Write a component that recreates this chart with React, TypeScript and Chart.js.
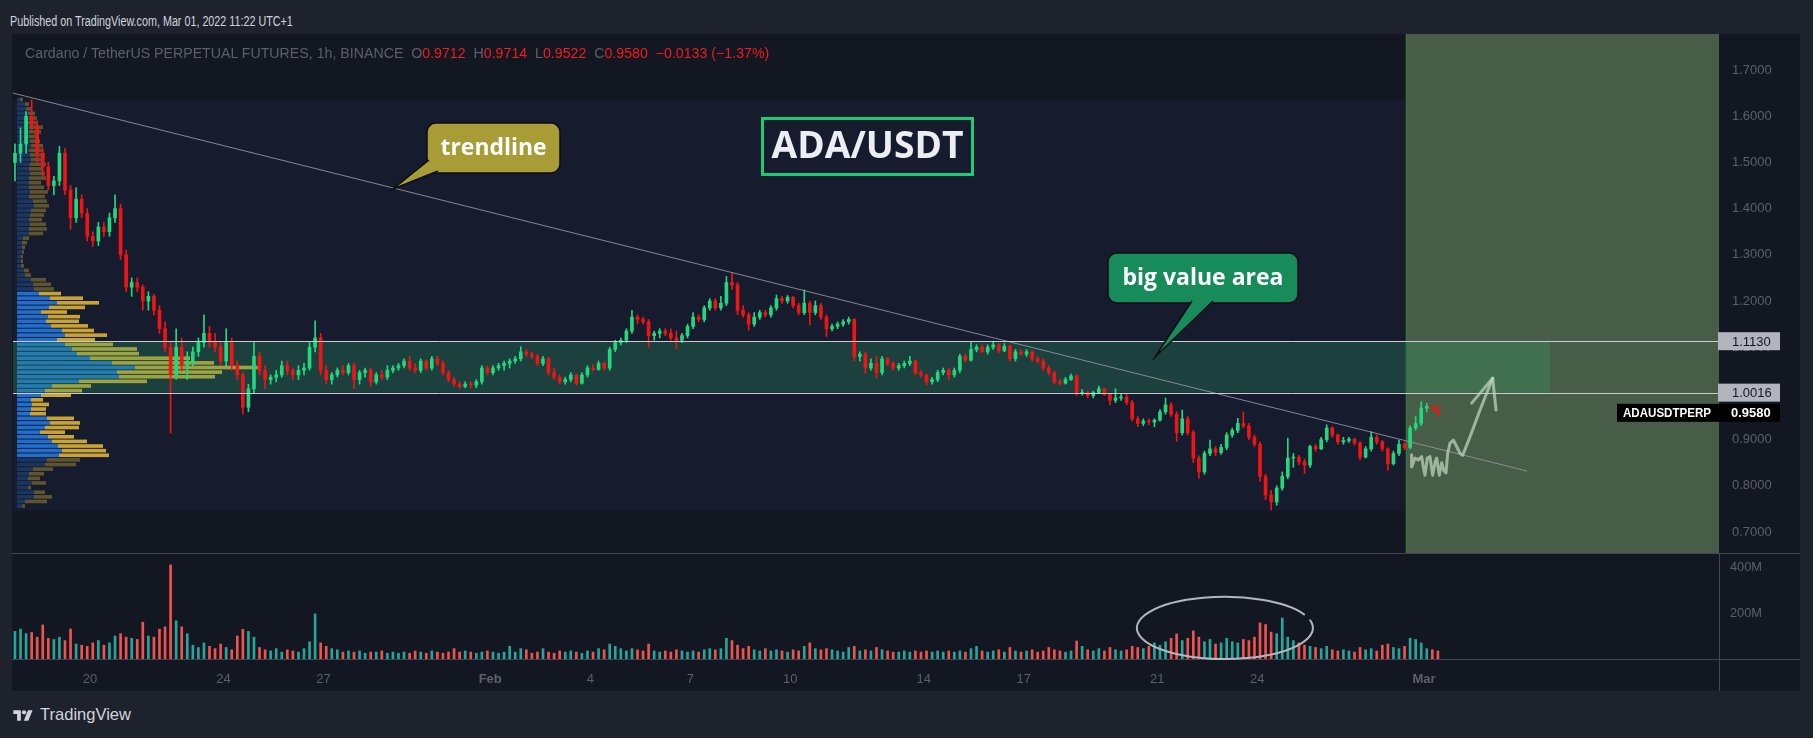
import React, { useEffect, useRef } from 'react';
import { Chart, registerables } from 'chart.js';

Chart.register(...registerables);

// ---------------- time axis (days after 2022-01-20 00:00, UTC+1) ----------------
const xMinDay = -2.309;
const xMaxDay = 48.846;
const tickDays = [0, 4, 7, 12, 15, 18, 21, 25, 28, 32, 35, 40];
const tickLabels = ['20', '24', '27', 'Feb', '4', '7', '10', '14', '17', '21', '24', 'Mar'];
const monthLabels = ['Feb', 'Mar'];

// ---------------- price / volume axes ----------------
const priceMin = 0.4251;
const priceMax = 1.7779;
const pricePaneLow = 0.6545;
const priceTicks = [0.7, 0.8, 0.9, 1.0, 1.1, 1.2, 1.3, 1.4, 1.5, 1.6, 1.7];
const volumeMax = 2717; // millions
const volumeTicks = [200, 400];
const levels = [1.113, 1.0016];
const lastPrice = 0.958;
const symbol = 'ADAUSDTPERP';

// ---------------- 4h candles, first one opens Jan 17 16:00 ----------------
const firstCandleDay = -2.3333;
const candleHours = 4;
// [open, high, low, close]
const candles = [
  [1.50,1.54,1.46,1.52],[1.52,1.575,1.50,1.54],[1.54,1.61,1.52,1.60],[1.60,1.635,1.57,1.58],[1.58,1.59,1.50,1.52],
  [1.52,1.53,1.47,1.49],[1.49,1.50,1.44,1.45],[1.45,1.47,1.43,1.46],[1.46,1.535,1.45,1.52],[1.52,1.53,1.43,1.44],
  [1.44,1.45,1.355,1.38],[1.38,1.445,1.37,1.42],[1.42,1.43,1.38,1.39],[1.39,1.40,1.33,1.34],[1.34,1.35,1.318,1.33],
  [1.33,1.37,1.32,1.36],[1.36,1.37,1.34,1.35],[1.35,1.39,1.34,1.38],[1.38,1.43,1.37,1.40],[1.40,1.41,1.29,1.30],
  [1.30,1.31,1.22,1.23],[1.23,1.25,1.21,1.24],[1.24,1.25,1.22,1.23],[1.23,1.235,1.18,1.20],[1.20,1.22,1.18,1.21],
  [1.21,1.215,1.17,1.18],[1.18,1.19,1.13,1.14],[1.14,1.155,1.09,1.10],[1.10,1.11,0.914,1.04],[1.04,1.14,1.03,1.10],
  [1.10,1.12,1.05,1.06],[1.06,1.09,1.03,1.07],[1.07,1.10,1.06,1.09],[1.09,1.12,1.08,1.11],[1.11,1.17,1.10,1.13],
  [1.13,1.145,1.10,1.11],[1.11,1.13,1.09,1.10],[1.10,1.11,1.06,1.07],[1.07,1.14,1.06,1.11],[1.11,1.12,1.05,1.06],
  [1.06,1.07,1.03,1.04],[1.04,1.045,0.955,0.97],[0.97,1.02,0.96,1.01],[1.01,1.11,1.00,1.08],[1.08,1.09,1.04,1.05],
  [1.05,1.06,1.01,1.03],[1.03,1.04,1.02,1.035],[1.035,1.05,1.025,1.04],[1.04,1.07,1.035,1.06],[1.06,1.07,1.04,1.05],
  [1.05,1.055,1.03,1.04],[1.04,1.06,1.03,1.05],[1.05,1.065,1.04,1.055],[1.055,1.11,1.05,1.10],[1.10,1.157,1.09,1.12],
  [1.12,1.13,1.04,1.05],[1.05,1.06,1.02,1.03],[1.03,1.045,1.02,1.04],[1.04,1.055,1.035,1.05],[1.05,1.06,1.04,1.045],
  [1.045,1.065,1.04,1.06],[1.06,1.065,1.01,1.03],[1.03,1.05,1.02,1.045],[1.045,1.055,1.035,1.05],[1.05,1.055,1.015,1.025],
  [1.025,1.045,1.02,1.04],[1.04,1.05,1.03,1.035],[1.035,1.06,1.03,1.05],[1.05,1.06,1.045,1.055],[1.055,1.065,1.05,1.06],
  [1.06,1.075,1.055,1.07],[1.07,1.08,1.05,1.055],[1.055,1.065,1.045,1.05],[1.05,1.075,1.045,1.07],[1.07,1.072,1.05,1.055],
  [1.055,1.08,1.05,1.075],[1.075,1.08,1.06,1.065],[1.065,1.07,1.04,1.045],[1.045,1.05,1.025,1.03],[1.03,1.035,1.015,1.02],
  [1.02,1.025,1.011,1.015],[1.015,1.025,1.012,1.02],[1.02,1.025,1.012,1.018],[1.018,1.03,1.012,1.025],[1.025,1.06,1.02,1.055],
  [1.055,1.06,1.04,1.045],[1.045,1.06,1.04,1.055],[1.055,1.065,1.05,1.06],[1.06,1.07,1.05,1.065],[1.065,1.075,1.055,1.07],
  [1.07,1.08,1.065,1.075],[1.075,1.101,1.07,1.09],[1.09,1.095,1.08,1.085],[1.085,1.09,1.075,1.08],[1.08,1.085,1.06,1.065],
  [1.065,1.08,1.06,1.075],[1.075,1.078,1.04,1.045],[1.045,1.055,1.03,1.035],[1.035,1.04,1.02,1.025],[1.025,1.035,1.02,1.03],
  [1.03,1.045,1.025,1.04],[1.04,1.042,1.018,1.022],[1.022,1.045,1.02,1.04],[1.04,1.06,1.035,1.055],[1.055,1.062,1.048,1.052],
  [1.052,1.07,1.05,1.065],[1.065,1.068,1.05,1.055],[1.055,1.10,1.05,1.095],[1.095,1.115,1.09,1.11],[1.11,1.12,1.105,1.115],
  [1.115,1.14,1.11,1.135],[1.135,1.18,1.13,1.165],[1.165,1.17,1.15,1.16],[1.16,1.165,1.15,1.155],[1.155,1.16,1.10,1.125],
  [1.125,1.135,1.115,1.13],[1.13,1.14,1.12,1.135],[1.135,1.14,1.125,1.13],[1.13,1.14,1.115,1.12],[1.12,1.135,1.097,1.115],
  [1.115,1.13,1.11,1.125],[1.125,1.15,1.12,1.145],[1.145,1.175,1.14,1.165],[1.165,1.17,1.155,1.16],[1.16,1.19,1.155,1.185],
  [1.185,1.205,1.18,1.20],[1.20,1.205,1.18,1.185],[1.185,1.21,1.18,1.195],[1.195,1.253,1.19,1.24],[1.24,1.261,1.225,1.235],
  [1.235,1.24,1.17,1.18],[1.18,1.19,1.165,1.17],[1.17,1.175,1.137,1.15],[1.15,1.175,1.145,1.165],[1.165,1.18,1.16,1.175],
  [1.175,1.18,1.165,1.17],[1.17,1.19,1.165,1.185],[1.185,1.213,1.18,1.205],[1.205,1.21,1.195,1.20],[1.20,1.212,1.195,1.208],
  [1.208,1.21,1.185,1.19],[1.19,1.195,1.17,1.175],[1.175,1.224,1.17,1.195],[1.195,1.20,1.148,1.175],[1.175,1.20,1.17,1.19],
  [1.19,1.195,1.16,1.165],[1.165,1.17,1.123,1.14],[1.14,1.15,1.135,1.145],[1.145,1.155,1.14,1.15],[1.15,1.16,1.145,1.155],
  [1.155,1.165,1.15,1.16],[1.16,1.162,1.07,1.08],[1.08,1.09,1.07,1.085],[1.085,1.09,1.043,1.055],[1.055,1.075,1.05,1.065],
  [1.065,1.08,1.033,1.045],[1.045,1.08,1.04,1.075],[1.075,1.078,1.06,1.065],[1.065,1.068,1.05,1.055],[1.055,1.065,1.05,1.06],
  [1.06,1.07,1.055,1.065],[1.065,1.08,1.06,1.07],[1.07,1.072,1.04,1.045],[1.045,1.05,1.035,1.04],[1.04,1.042,1.018,1.025],
  [1.025,1.035,1.02,1.03],[1.03,1.05,1.025,1.045],[1.045,1.055,1.04,1.05],[1.05,1.055,1.03,1.04],[1.04,1.055,1.035,1.05],
  [1.05,1.085,1.045,1.08],[1.08,1.085,1.068,1.072],[1.072,1.112,1.07,1.095],[1.095,1.105,1.09,1.10],[1.10,1.105,1.088,1.09],
  [1.09,1.105,1.085,1.10],[1.10,1.113,1.095,1.105],[1.105,1.108,1.088,1.092],[1.092,1.108,1.09,1.102],[1.102,1.105,1.07,1.075],
  [1.075,1.095,1.07,1.09],[1.09,1.095,1.082,1.085],[1.085,1.095,1.08,1.09],[1.09,1.092,1.07,1.075],[1.075,1.08,1.065,1.07],
  [1.07,1.075,1.05,1.055],[1.055,1.06,1.04,1.045],[1.045,1.048,1.02,1.025],[1.025,1.03,1.018,1.022],[1.022,1.035,1.02,1.03],
  [1.03,1.042,1.028,1.038],[1.038,1.04,0.995,1.00],[1.00,1.008,0.996,1.002],[1.002,1.005,0.99,0.995],[0.995,1.005,0.99,1.002],
  [1.002,1.016,1.00,1.01],[1.01,1.012,0.995,0.998],[0.998,1.00,0.975,0.985],[0.985,1.01,0.98,0.99],[0.99,0.998,0.985,0.992],
  [0.992,1.00,0.975,0.98],[0.98,0.985,0.94,0.945],[0.945,0.95,0.928,0.935],[0.935,0.945,0.93,0.94],[0.94,0.945,0.932,0.938],
  [0.938,0.945,0.928,0.942],[0.942,0.965,0.94,0.96],[0.96,0.99,0.955,0.975],[0.975,0.98,0.95,0.955],[0.955,0.96,0.896,0.915],
  [0.915,0.964,0.91,0.945],[0.945,0.95,0.91,0.915],[0.915,0.92,0.85,0.86],[0.86,0.865,0.816,0.83],[0.83,0.875,0.825,0.87],
  [0.87,0.899,0.865,0.88],[0.88,0.885,0.865,0.872],[0.872,0.89,0.868,0.883],[0.883,0.915,0.878,0.91],[0.91,0.925,0.905,0.92],
  [0.92,0.946,0.915,0.935],[0.935,0.96,0.925,0.93],[0.93,0.935,0.90,0.905],[0.905,0.91,0.885,0.89],[0.89,0.895,0.81,0.82],
  [0.82,0.825,0.77,0.78],[0.78,0.79,0.748,0.765],[0.765,0.80,0.758,0.795],[0.795,0.83,0.79,0.82],[0.82,0.903,0.815,0.86],
  [0.86,0.87,0.84,0.862],[0.862,0.866,0.845,0.852],[0.852,0.858,0.827,0.845],[0.845,0.888,0.84,0.885],[0.885,0.89,0.875,0.88],
  [0.88,0.905,0.878,0.90],[0.90,0.932,0.895,0.925],[0.925,0.928,0.905,0.91],[0.91,0.912,0.89,0.895],[0.895,0.905,0.89,0.898],
  [0.898,0.905,0.894,0.901],[0.901,0.903,0.888,0.893],[0.893,0.895,0.856,0.862],[0.862,0.885,0.86,0.88],[0.88,0.917,0.875,0.905],
  [0.905,0.91,0.89,0.895],[0.895,0.898,0.875,0.88],[0.88,0.882,0.834,0.848],[0.848,0.875,0.845,0.87],[0.87,0.899,0.865,0.89],
  [0.89,0.895,0.878,0.883],[0.883,0.93,0.88,0.925],[0.925,0.95,0.92,0.935],[0.935,0.982,0.93,0.968],[0.968,0.978,0.96,0.972],
  [0.972,0.975,0.962,0.966],[0.966,0.975,0.952,0.958],
];

// peak hourly volume inside each 4h candle, millions
const volumes = [
  120,130,110,115,95,148,90,85,95,80,
  130,65,60,55,70,80,60,70,100,110,
  95,90,85,160,100,95,130,140,409,166,
  140,110,60,50,70,55,45,65,50,40,
  100,129,120,95,50,40,35,45,30,40,
  35,30,45,75,196,70,55,45,40,30,
  35,30,35,25,30,30,35,25,30,25,
  30,25,35,30,25,35,30,25,30,45,
  30,35,30,25,30,35,30,25,30,55,
  30,45,40,25,30,45,30,25,35,30,
  35,30,25,35,30,45,40,65,55,45,
  35,45,40,35,65,35,30,35,30,40,
  35,30,35,30,40,45,40,45,90,80,
  60,45,55,40,35,45,35,40,35,30,
  40,35,55,70,45,40,45,40,35,30,
  50,55,35,40,35,50,40,35,30,30,
  35,30,35,30,35,30,35,30,35,30,
  35,30,45,55,35,30,35,40,30,50,
  35,30,35,40,30,35,50,40,35,30,
  35,78,55,40,35,45,35,50,40,35,
  40,55,50,45,55,70,60,75,90,109,
  80,90,122,95,75,85,65,70,90,75,
  70,85,80,95,157,150,117,110,178,95,
  80,70,60,55,50,45,55,40,35,40,
  35,30,50,40,45,35,60,65,50,45,
  55,90,85,70,45,40,35,
];

// ---------------- visible-range volume profile (rows of 0.01 from 0.75) ----------------
const vpLowPrice = 0.75;
const vpRowSize = 0.01;
const vpValueArea = [0.86, 1.215];
const vpAxisRange = [-4, 1702]; // profile volume units across the pane width
const vpUp = [
  5,8,17,17,11,15,11,12,16,28,
  30,42,45,41,35,31,23,28,33,30,
  13,14,15,14,24,28,35,62,102,100,
  118,95,73,60,55,48,40,48,45,34,
  29,31,24,32,40,33,22,17,16,14,
  8,7,4,4,4,5,5,5,6,12,
  12,13,12,13,14,17,16,12,13,12,
  12,12,13,12,13,14,13,12,14,13,
  12,12,12,11,12,11,9,8,3,
];
const vpDown = [
  3,22,18,11,3,14,12,15,20,31,
  33,50,44,45,35,26,25,34,30,27,
  16,15,17,12,30,37,39,68,96,105,
  126,102,100,62,65,48,38,42,32,37,
  33,32,26,36,42,33,22,20,18,15,
  6,5,3,2,2,2,3,5,6,14,
  18,16,13,14,15,15,14,16,18,15,
  12,17,15,14,16,12,15,13,12,10,
  9,12,14,9,8,7,6,4,3,
];

// ---------------- drawings (day, price) ----------------
const trendline = [[xMinDay, 1.650], [43.088, 0.832]];
const rangeRect = [0.7455, 1.635];
const boxStartDay = 39.451;
const bandEndDay = 43.78;
const callouts = [
  { text: 'trendline', fill: '#a89c37', box: [10.105, 1.5853, 14.093, 1.4771], tail: [[10.165, 1.5052], [9.085, 1.4424], [10.435, 1.4814]], textAt: [12.099, 1.5312], textWidth: 106 },
  { text: 'big value area', fill: '#178c5a', box: [30.525, 1.3039, 36.222, 1.1957], tail: [[33.043, 1.2], [31.934, 1.0788], [33.673, 1.2]], textAt: [33.373, 1.2498], textWidth: 163 },
];
const titleBox = { text: 'ADA/USDT', box: [20.12, 1.5983, 26.507, 1.4706], textAt: [23.313, 1.5344], textWidth: 192 };
const sketchPath = [
  [39.63,0.867],[39.63,0.841],[39.73,0.860],[39.83,0.856],[39.93,0.863],[39.98,0.841],[40.03,0.823],[40.10,0.860],
  [40.18,0.863],[40.26,0.823],[40.33,0.850],[40.38,0.860],[40.46,0.823],[40.53,0.850],[40.60,0.832],[40.66,0.828],
  [40.71,0.870],[40.78,0.892],[40.88,0.899],[40.98,0.885],[41.08,0.870],[41.16,0.866],[41.38,0.906],[41.68,0.964],[42.06,1.033],
];
const sketchArrowHead = [[41.43, 0.979], [42.06, 1.033], [42.16, 0.964]];
const volumeCircle = { center: [34.03, 135], radius: [2.64, 135] };

// ---------------- texts ----------------
const publishedText = 'Published on TradingView.com, Mar 01, 2022 11:22 UTC+1';
const headerParts = [
  { t: 'Cardano / TetherUS PERPETUAL FUTURES, 1h, BINANCE  O', c: '#5d606b' },
  { t: '0.9712', c: '#f41c1c' },
  { t: '  H', c: '#5d606b' },
  { t: '0.9714', c: '#f41c1c' },
  { t: '  L', c: '#5d606b' },
  { t: '0.9522', c: '#f41c1c' },
  { t: '  C', c: '#5d606b' },
  { t: '0.9580', c: '#f41c1c' },
  { t: '  \u22120.0133 (\u22121.37%)', c: '#f41c1c' },
];

const FONT_AXIS = "'Liberation Sans', Arial, sans-serif";
const FONT_NOTE = "'Open Sans', 'DejaVu Sans', sans-serif";
const GREEN = '#22d87e';
const RED = '#f01414';
const VGREEN = '#26a69a';
const VRED = '#ef5350';
const SEP = '#434651';

const candleDay = (i: number) => firstCandleDay + (i * candleHours + candleHours / 2) / 24;
const isUp = (c: number[]) => c[3] >= c[0];

function roundRect(ctx: CanvasRenderingContext2D, x: number, y: number, w: number, h: number, r: number) {
  ctx.beginPath();
  ctx.moveTo(x + r, y);
  ctx.arcTo(x + w, y, x + w, y + h, r);
  ctx.arcTo(x + w, y + h, x, y + h, r);
  ctx.arcTo(x, y + h, x, y, r);
  ctx.arcTo(x, y, x + w, y, r);
  ctx.closePath();
}

const overlayPlugin = {
  id: 'tvOverlay',
  beforeDatasetsDraw(chart: any) {
    const { ctx, chartArea: a } = chart;
    const X = chart.scales.x, Y = chart.scales.y;
    ctx.save();
    const boxX = X.getPixelForValue(boxStartDay);
    const paneBottom = Y.getPixelForValue(pricePaneLow);
    // range rectangle
    const r1 = Y.getPixelForValue(rangeRect[1]);
    const r0 = Y.getPixelForValue(rangeRect[0]);
    ctx.fillStyle = '#161b2e';
    ctx.fillRect(a.left, r1, a.right - a.left, r0 - r1);
    // volume profile (horizontal volume axis laid across the pane width)
    const vpPx = (v: number) => a.left + ((v - vpAxisRange[0]) / (vpAxisRange[1] - vpAxisRange[0])) * (a.right - a.left);
    const x0 = vpPx(0);
    for (let k = 0; k < vpUp.length; k++) {
      const lo = vpLowPrice + k * vpRowSize;
      const hi = lo + vpRowSize;
      const yt = Y.getPixelForValue(hi);
      const yb = Y.getPixelForValue(lo);
      const mid = (lo + hi) / 2;
      const inVA = mid >= vpValueArea[0] && mid <= vpValueArea[1];
      const xb = vpPx(vpUp[k]);
      const xt = vpPx(vpUp[k] + vpDown[k]);
      const h = Math.max(1, yb - yt - 1);
      ctx.fillStyle = inVA ? '#1f6fd0' : '#1c3662';
      ctx.fillRect(x0, yt, xb - x0, h);
      ctx.fillStyle = inVA ? '#c9a435' : '#5e5430';
      ctx.fillRect(xb, yt, xt - xb, h);
    }
    // projection box
    ctx.fillStyle = '#475d47';
    ctx.fillRect(boxX, a.top, a.right - boxX, paneBottom - a.top);
    // value-area band
    const b1 = Y.getPixelForValue(levels[0]);
    const b0 = Y.getPixelForValue(levels[1]);
    const bx = X.getPixelForValue(bandEndDay);
    ctx.fillStyle = 'rgba(45,160,100,0.28)';
    ctx.fillRect(a.left, b1, bx - a.left, b0 - b1);
    ctx.fillStyle = '#2f7a2f';
    ctx.fillRect(Math.round(boxX), a.top, 1, paneBottom - a.top);
    ctx.restore();
  },
  afterDatasetsDraw(chart: any) {
    const { ctx, chartArea: a, width, height } = chart;
    const X = chart.scales.x, Y = chart.scales.y, V = chart.scales.yv;
    const P = (d: number, p: number) => [X.getPixelForValue(d), Y.getPixelForValue(p)];
    ctx.save();
    // horizontal levels
    ctx.strokeStyle = '#c9ccd3';
    ctx.lineWidth = 1;
    for (const lv of levels) {
      const yy = Math.round(Y.getPixelForValue(lv)) + 0.5;
      ctx.beginPath(); ctx.moveTo(a.left, yy); ctx.lineTo(a.right, yy); ctx.stroke();
    }
    // pane separators
    ctx.strokeStyle = SEP;
    const ps = Math.round(Y.getPixelForValue(pricePaneLow)) + 0.5;
    ctx.beginPath(); ctx.moveTo(0, ps); ctx.lineTo(width, ps); ctx.stroke();
    const bb = Math.round(a.bottom) + 0.5;
    ctx.beginPath(); ctx.moveTo(0, bb); ctx.lineTo(width, bb); ctx.stroke();
    const rx = Math.round(a.right) + 0.5;
    ctx.beginPath(); ctx.moveTo(rx, ps); ctx.lineTo(rx, height); ctx.stroke();

    // callouts
    for (const c of callouts) {
      const [l, t] = P(c.box[0], c.box[1]);
      const [r, b] = P(c.box[2], c.box[3]);
      ctx.fillStyle = c.fill;
      ctx.strokeStyle = '#0c0e13';
      ctx.lineWidth = 1.5;
      roundRect(ctx, l, t, r - l, b - t, 9);
      ctx.fill(); ctx.stroke();
      const pts = c.tail.map(([d, p]) => P(d, p));
      ctx.beginPath(); ctx.moveTo(pts[0][0], pts[0][1]); ctx.lineTo(pts[1][0], pts[1][1]); ctx.lineTo(pts[2][0], pts[2][1]); ctx.closePath(); ctx.fill();
      ctx.beginPath(); ctx.moveTo(pts[0][0], pts[0][1]); ctx.lineTo(pts[1][0], pts[1][1]); ctx.lineTo(pts[2][0], pts[2][1]); ctx.stroke();
      const [tx, ty] = P(c.textAt[0], c.textAt[1]);
      ctx.fillStyle = '#ffffff';
      ctx.font = `bold 23px ${FONT_NOTE}`;
      ctx.textAlign = 'center';
      ctx.textBaseline = 'middle';
      ctx.fillText(c.text, tx, ty, c.textWidth);
    }
    // title box
    {
      const [l, t] = P(titleBox.box[0], titleBox.box[1]);
      const [r, b] = P(titleBox.box[2], titleBox.box[3]);
      ctx.strokeStyle = '#20cb76';
      ctx.lineWidth = 3;
      ctx.strokeRect(l + 1.5, t + 1.5, r - l - 3, b - t - 3);
      const [tx, ty] = P(titleBox.textAt[0], titleBox.textAt[1]);
      ctx.fillStyle = '#eceef2';
      ctx.font = `bold 38px ${FONT_NOTE}`;
      ctx.textAlign = 'center';
      ctx.textBaseline = 'middle';
      ctx.fillText(titleBox.text, tx, ty + 1, titleBox.textWidth);
    }
    // hand-drawn path and arrow
    ctx.strokeStyle = 'rgba(196,214,190,0.72)';
    ctx.lineWidth = 3;
    ctx.lineJoin = 'round';
    ctx.lineCap = 'round';
    ctx.beginPath();
    sketchPath.forEach(([d, p], i) => { const [x, y] = P(d, p); if (i === 0) ctx.moveTo(x, y); else ctx.lineTo(x, y); });
    ctx.stroke();
    ctx.beginPath();
    sketchArrowHead.forEach(([d, p], i) => { const [x, y] = P(d, p); if (i === 0) ctx.moveTo(x, y); else ctx.lineTo(x, y); });
    ctx.stroke();
    // volume circle
    const cx = X.getPixelForValue(volumeCircle.center[0]);
    const cy = V.getPixelForValue(volumeCircle.center[1]);
    const erx = Math.abs(X.getPixelForValue(volumeCircle.center[0] + volumeCircle.radius[0]) - cx);
    const ery = Math.abs(V.getPixelForValue(volumeCircle.center[1] + volumeCircle.radius[1]) - cy);
    ctx.strokeStyle = '#b4b7bf';
    ctx.lineWidth = 2;
    ctx.beginPath();
    ctx.ellipse(cx, cy, erx, ery, 0, -0.25, Math.PI * 2 - 0.45);
    ctx.stroke();
    ctx.restore();
  },
  afterDraw(chart: any) {
    const { ctx, chartArea: a } = chart;
    const Y = chart.scales.y, V = chart.scales.yv;
    ctx.save();
    ctx.textAlign = 'left';
    ctx.textBaseline = 'middle';
    for (const lv of levels) {
      const yy = Y.getPixelForValue(lv);
      ctx.fillStyle = '#b2b5be';
      ctx.fillRect(a.right - 1, yy - 9, 62, 18);
      ctx.fillStyle = '#131722';
      ctx.font = `13px ${FONT_AXIS}`;
      ctx.fillText(lv.toFixed(4), a.right + 13, yy + 1);
    }
    const yl = Y.getPixelForValue(lastPrice);
    ctx.fillStyle = '#000000';
    ctx.fillRect(a.right - 102, yl - 9, 163, 18);
    ctx.fillStyle = '#ffffff';
    ctx.font = `bold 13px ${FONT_AXIS}`;
    ctx.fillText(symbol, a.right - 96, yl + 1, 88);
    ctx.fillText(lastPrice.toFixed(4), a.right + 12, yl + 1);
    ctx.fillStyle = '#5d606b';
    ctx.font = `13px ${FONT_AXIS}`;
    for (const v of volumeTicks) ctx.fillText(`${v}M`, a.right + 11, V.getPixelForValue(v), 32);
    ctx.restore();
  },
};

let measureCtx: CanvasRenderingContext2D | null = null;
function measure(text: string, font: string) {
  if (!measureCtx) measureCtx = document.createElement('canvas').getContext('2d');
  if (!measureCtx) return 0;
  measureCtx.font = font;
  return measureCtx.measureText(text).width;
}

function FitLine({ parts, font, width, left, top, lineHeight }: any) {
  const full = parts.map((p: any) => p.t).join('');
  const w = measure(full, font);
  const sx = w > 0 ? width / w : 1;
  return (
    <div style={{ position: 'absolute', left, top, font, lineHeight: `${lineHeight}px`, whiteSpace: 'pre', transform: `scaleX(${sx})`, transformOrigin: '0 0' }}>
      {parts.map((p: any, i: number) => <span key={i} style={{ color: p.c }}>{p.t}</span>)}
    </div>
  );
}

export default function App() {
  const ref = useRef<HTMLCanvasElement>(null);
  useEffect(() => {
    if (!ref.current) return;
    const upFlags = candles.map(isUp);
    const chart = new Chart(ref.current, {
      type: 'bar',
      data: {
        datasets: [
          {
            type: 'line', label: 'trendline',
            data: trendline.map(([x, y]) => ({ x, y })),
            borderColor: 'rgba(150,153,163,0.85)', borderWidth: 1, pointRadius: 0,
            xAxisID: 'x', yAxisID: 'y', order: 0,
          } as any,
          {
            type: 'bar', label: 'body',
            data: candles.map((c, i) => ({ x: candleDay(i), y: [c[0], c[3]] })),
            backgroundColor: upFlags.map((u) => (u ? GREEN : RED)),
            barThickness: 3, minBarLength: 1, grouped: false, xAxisID: 'x', yAxisID: 'y', order: 1,
          } as any,
          {
            type: 'bar', label: 'wick',
            data: candles.map((c, i) => ({ x: candleDay(i), y: [c[2], c[1]] })),
            backgroundColor: upFlags.map((u) => (u ? GREEN : RED)),
            barThickness: 1, grouped: false, xAxisID: 'x', yAxisID: 'y', order: 2,
          } as any,
          {
            type: 'bar', label: 'volume',
            data: volumes.map((v, i) => ({ x: candleDay(i), y: v })),
            backgroundColor: upFlags.map((u) => (u ? VGREEN : VRED)),
            barThickness: 2, grouped: false, xAxisID: 'x', yAxisID: 'yv', order: 3,
          } as any,
        ],
      },
      options: {
        responsive: false,
        animation: false,
        devicePixelRatio: 1,
        events: [],
        layout: { padding: { left: 1, right: 0, top: 0, bottom: 0 } },
        plugins: { legend: { display: false }, tooltip: { enabled: false } },
        scales: {
          x: {
            type: 'linear', position: 'bottom', min: xMinDay, max: xMaxDay, offset: false,
            grid: { display: false, drawTicks: false },
            border: { display: false },
            afterBuildTicks: (s: any) => { s.ticks = tickDays.map((v) => ({ value: v })); },
            afterFit: (s: any) => { s.height = 32; s.paddingLeft = 0; s.paddingRight = 0; },
            ticks: {
              autoSkip: false, maxRotation: 0, padding: 13, color: '#5d606b',
              font: (c: any) => ({ family: FONT_AXIS, size: 13, weight: c.tick && monthLabels.includes(c.tick.label) ? 'bold' : 'normal' }),
              callback: (v: any) => tickLabels[tickDays.indexOf(Number(v))] ?? '',
            },
          },
          y: {
            type: 'linear', position: 'right', min: priceMin, max: priceMax,
            grid: { display: false, drawTicks: false },
            border: { display: false },
            afterBuildTicks: (s: any) => { s.ticks = priceTicks.map((v) => ({ value: v })); },
            afterFit: (s: any) => { s.width = 81; s.paddingTop = 0; s.paddingBottom = 0; },
            ticks: { padding: 13, color: '#5d606b', font: { family: FONT_AXIS, size: 13 }, callback: (v: any) => Number(v).toFixed(4) },
          },
          yv: { type: 'linear', position: 'right', display: false, min: 0, max: volumeMax },
        },
      } as any,
      plugins: [overlayPlugin],
    });
    return () => chart.destroy();
  }, []);

  return (
    <div style={{ position: 'fixed', left: 0, top: 0, width: 1813, height: 738, background: '#1e222d', overflow: 'hidden' }}>
      <FitLine parts={[{ t: publishedText, c: '#d1d4dc' }]} font={`14px ${FONT_AXIS}`} width={283} left={10} top={12} lineHeight={18} />
      <div style={{ position: 'absolute', left: 12, top: 34, width: 1788, height: 657, background: '#131722' }}>
        <canvas ref={ref} width={1788} height={657} style={{ display: 'block', width: 1788, height: 657 }} />
        <FitLine parts={headerParts} font={`14px ${FONT_AXIS}`} width={745} left={13} top={10} lineHeight={18} />
      </div>
      <svg style={{ position: 'absolute', left: 12, top: 708 }} width={22} height={15} viewBox="0 0 36 28">
        <path d="M14 24H7V11H0V4h14v20z" fill="#d1d4dc" />
        <circle cx="20" cy="8" r="4" fill="#d1d4dc" />
        <path d="M28 24H19.5L27.4 4h8.5L28 24z" fill="#d1d4dc" />
      </svg>
      <FitLine parts={[{ t: 'TradingView', c: '#d1d4dc' }]} font={`17px ${FONT_AXIS}`} width={91} left={40} top={705} lineHeight={20} />
    </div>
  );
}
